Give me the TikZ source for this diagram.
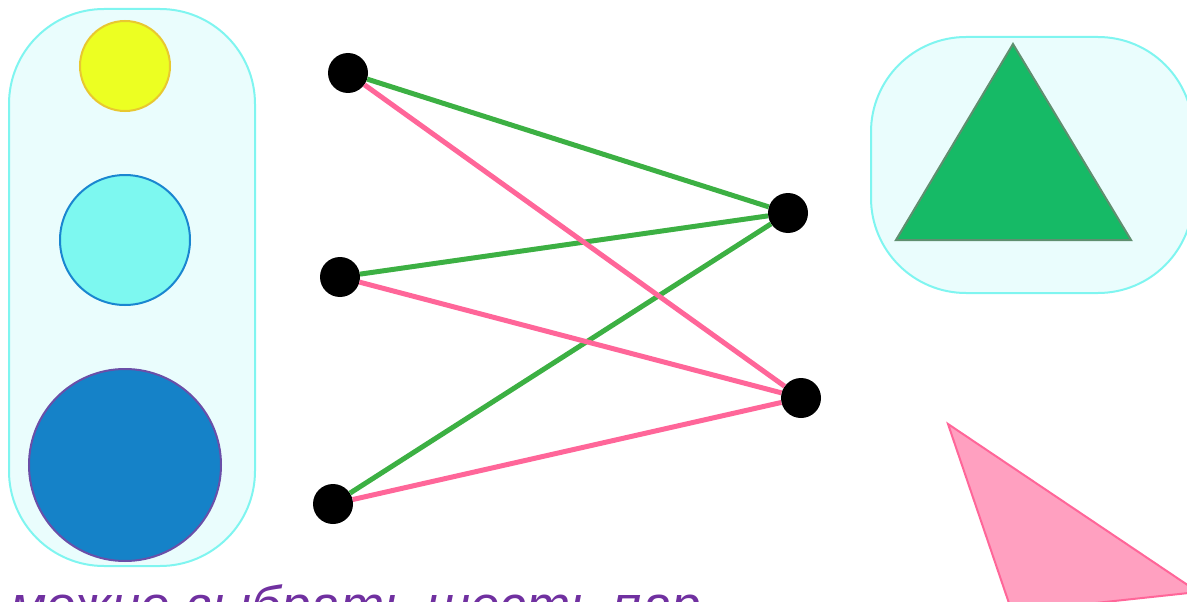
\documentclass[tikz,border=0pt]{standalone}
\usepackage{fontspec}
\setmainfont{Liberation Sans}
\definecolor{boxfill}{HTML}{EAFDFD}
\definecolor{boxline}{HTML}{7FF5F0}
\definecolor{sunfill}{HTML}{ECFF22}
\definecolor{sunline}{HTML}{E8C830}
\definecolor{aquafill}{HTML}{7DF8F0}
\definecolor{aqualine}{HTML}{1A86D0}
\definecolor{bluefill}{HTML}{1582C8}
\definecolor{blueline}{HTML}{6A4FA8}
\definecolor{edgegreen}{HTML}{3CB043}
\definecolor{edgepink}{HTML}{FF6699}
\definecolor{trifill}{HTML}{16BA66}
\definecolor{triline}{HTML}{5F8F6F}
\definecolor{pinkfill}{HTML}{FFA0C0}
\definecolor{textpurple}{HTML}{7030A0}
\tikzset{
  dot/.style={circle,fill=black,inner sep=0pt,minimum size=40pt},
  greenedge/.style={edgegreen,line width=5pt},
  pinkedge/.style={edgepink,line width=5pt},
  holder/.style={fill=boxfill,draw=boxline,line width=2pt,rounded corners=95pt}
}

\begin{document}
\begin{tikzpicture}[x=1pt,y=-1pt]
			\useasboundingbox (0,0) rectangle (1187,602);
			\clip (0,0) rectangle (1187,602);
			% left group of circles
			\draw[holder] (9,9) rectangle (255,566);
			\draw[fill=sunfill,draw=sunline,line width=2pt] (125,66) circle (45);
			\draw[fill=aquafill,draw=aqualine,line width=2pt] (125,240) circle (65);
			\draw[fill=bluefill,draw=blueline,line width=2pt] (125,465) circle (96);
			% right group of triangles
			\draw[holder] (871,37) rectangle (1193,293);
			\draw[fill=trifill,draw=triline,line width=2pt] (1013,44) -- (896,240) -- (1131,240) -- cycle;
			\draw[fill=pinkfill,draw=edgepink,line width=2pt] (948,424) -- (1012,612) -- (1198,592) -- cycle;
			% points
			\node[dot] (a1) at (348,73) {};
			\node[dot] (a2) at (340,277) {};
			\node[dot] (a3) at (333,504) {};
			\node[dot] (b1) at (788,213) {};
			\node[dot] (b2) at (801,398) {};
			\draw[greenedge] (a1) -- (b1);
			\draw[greenedge] (a2) -- (b1);
			\draw[greenedge] (a3) -- (b1);
			\draw[pinkedge] (a1) -- (b2);
			\draw[pinkedge] (a2) -- (b2);
			\draw[pinkedge] (a3) -- (b2);
			\node[anchor=base west,inner sep=0pt,text=textpurple,font=\fontsize{53}{64}\selectfont\itshape] (caption) at (10,623) {можно выбрать шесть пар};
		\end{tikzpicture}
\end{document}
